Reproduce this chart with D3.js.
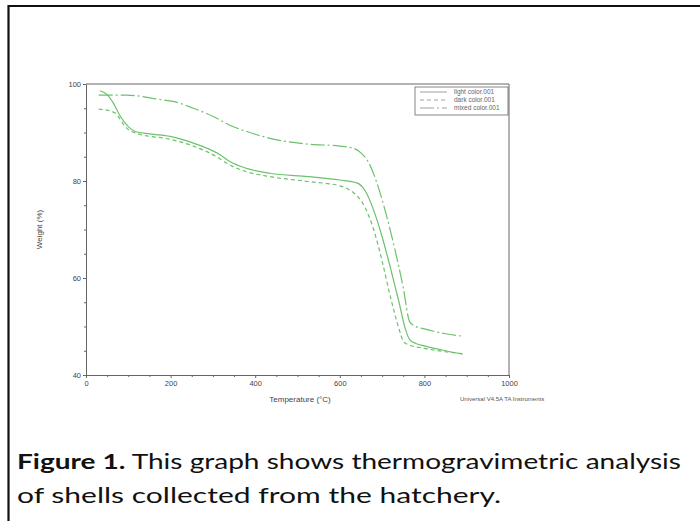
<!DOCTYPE html>
<html><head><meta charset="utf-8">
<script src="https://cdn.jsdelivr.net/npm/d3@7"></script>
<style>body{margin:0;background:#fff}</style>
</head><body>
<svg id="c" width="700" height="521"></svg>
<script>
const seriesNames = ["light color.001", "dark color.001", "mixed color.001"];
const lightT = [33, 50, 65, 80, 100, 116, 151, 199, 254, 317, 340, 380, 435, 525, 600, 640, 660, 680, 700, 720, 740, 755, 765, 780, 800, 850, 890];
const lightW = [98.6, 97.8, 96, 93.5, 91.2, 90.2, 89.7, 89.2, 87.8, 85.4, 84, 82.6, 81.6, 80.9, 80.2, 79.6, 78, 74, 68.5, 62, 55, 49.5, 47.3, 46.5, 46, 45, 44.3];
const darkT = [30, 50, 69, 96, 120, 199, 254, 309, 340, 380, 435, 525, 600, 620, 640, 660, 680, 700, 720, 740, 750, 760, 800, 850, 890];
const darkW = [94.8, 94.6, 94, 90.9, 89.8, 88.6, 87.2, 85, 83.3, 81.9, 80.9, 79.9, 79, 78.3, 77, 74.5, 70, 63.5, 56, 49.5, 47, 46.3, 45.5, 44.8, 44.4];
const mixedT = [30, 96, 175, 206, 254, 301, 340, 380, 435, 525, 600, 630, 650, 670, 690, 710, 730, 750, 765, 775, 800, 850, 890];
const mixedW = [97.7, 97.7, 96.8, 96.4, 95, 93.3, 91.5, 90.2, 88.8, 87.6, 87.2, 86.8, 85.8, 83.5, 79, 73, 66, 58, 51, 50.2, 49.5, 48.5, 48];
const xTicks = [0, 200, 400, 600, 800, 1000];
const yTicks = [40, 60, 80, 100];

const svg = d3.select("#c");
// frame
svg.append("path").attr("d", "M8.5,521 L8.5,6 L700,6").attr("fill", "none").attr("stroke", "#111").attr("stroke-width", 2.2);

const x = d3.scaleLinear().domain([0, 1000]).range([86, 509]);
const y = d3.scaleLinear().domain([40, 100]).range([375, 84]);
const axCol = "#666";
const tf = "Liberation Sans, Arial, sans-serif";

// plot box top/right
svg.append("path").attr("d", `M${x(0)},${y(100)} H${x(1000)} V${y(40)}`).attr("fill","none").attr("stroke", axCol).attr("stroke-width", 1);

const xa = svg.append("g").attr("transform", `translate(0,${y(40)})`)
  .call(d3.axisBottom(x).tickValues(xTicks).tickFormat(d3.format("d")).tickSize(3).tickSizeOuter(0).tickPadding(3));
const xm = svg.append("g").attr("transform", `translate(0,${y(40)})`)
  .call(d3.axisBottom(x).tickValues(d3.range(50, 1000, 50).filter(v => v % 200)).tickSize(2).tickFormat(""));
xm.select(".domain").remove();
const ya = svg.append("g").attr("transform", `translate(${x(0)},0)`)
  .call(d3.axisLeft(y).tickValues(yTicks).tickFormat(d3.format("d")).tickSize(3).tickSizeOuter(0).tickPadding(2));
const ym = svg.append("g").attr("transform", `translate(${x(0)},0)`)
  .call(d3.axisLeft(y).tickValues(d3.range(45, 100, 5).filter(v => v % 20)).tickSize(2).tickFormat(""));
ym.select(".domain").remove();
[xa, xm, ya, ym].forEach(g => {
  g.selectAll("path,line").attr("stroke", axCol);
  g.selectAll("text").attr("fill", "#444").attr("font-family", tf).attr("font-size", 7.5);
});

svg.append("text").attr("transform", `translate(42,${y(70)}) rotate(-90)`).attr("text-anchor","middle")
  .attr("font-family", tf).attr("font-size", 8).attr("fill", "#444").text("Weight (%)");
svg.append("text").attr("x", 300).attr("y", 402).attr("text-anchor","middle")
  .attr("font-family", tf).attr("font-size", 8).attr("fill", "#444").text("Temperature (°C)");
svg.append("text").attr("x", 460).attr("y", 401)
  .attr("font-family", tf).attr("font-size", 6).attr("fill", "#555").text("Universal V4.5A TA Instruments");

const green = "#6cc16c";
const dashes = [null, "4,3", "14,3,2,3"];
const data = [[lightT, lightW], [darkT, darkW], [mixedT, mixedW]];
const line = d3.line().x(d => x(d[0])).y(d => y(d[1])).curve(d3.curveMonotoneX);
data.forEach((s, i) => {
  const pts = s[0].map((t, k) => [t, s[1][k]]);
  svg.append("path").datum(pts).attr("d", line).attr("fill", "none")
    .attr("stroke", green).attr("stroke-width", 1.2).attr("stroke-dasharray", dashes[i]);
});

// legend
svg.append("rect").attr("x", 415).attr("y", 87).attr("width", 93).attr("height", 28)
  .attr("fill", "#fff").attr("stroke", axCol).attr("stroke-width", 0.8);
seriesNames.forEach((n, i) => {
  const yy = 92 + i * 8;
  svg.append("line").attr("x1", 420).attr("x2", 447).attr("y1", yy).attr("y2", yy)
    .attr("stroke", "#888").attr("stroke-width", 0.8).attr("stroke-dasharray", dashes[i]);
  svg.append("text").attr("x", 454).attr("y", yy + 2.3).attr("font-family", tf).attr("font-size", 6.5)
    .attr("fill", "#666").text(n);
});

// caption
const cf = "Lato, 'Open Sans', sans-serif";
const c1 = svg.append("text").attr("x", 17).attr("y", 469).attr("font-family", cf).attr("font-size", 20.5).attr("fill", "#111")
  .attr("textLength", 664).attr("lengthAdjust", "spacingAndGlyphs");
c1.append("tspan").attr("font-weight", "bold").text("Figure 1.");
c1.append("tspan").text(" This graph shows thermogravimetric analysis");
svg.append("text").attr("x", 17).attr("y", 503).attr("font-family", cf).attr("font-size", 20.5).attr("fill", "#111")
  .attr("textLength", 484).attr("lengthAdjust", "spacingAndGlyphs").text("of shells collected from the hatchery.");
</script>
</body></html>
